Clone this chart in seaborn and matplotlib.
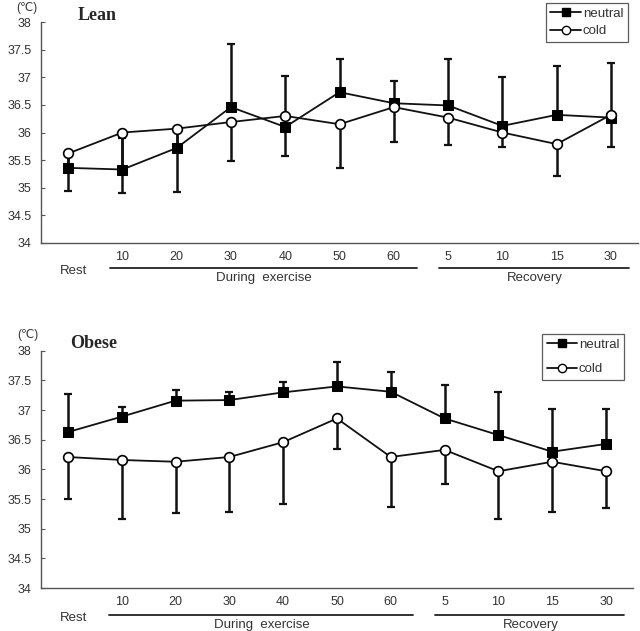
import numpy as np
import pandas as pd
import matplotlib
matplotlib.use("Agg")
import matplotlib.pyplot as plt
import matplotlib.transforms as mtransforms
from matplotlib.lines import Line2D
import seaborn as sns

# Time points (Rest, during exercise minutes, recovery minutes)
time_labels = ["", "10", "20", "30", "40", "50", "60", "5", "10", "15", "30"]

# Lean group, rectal temperature (deg C)
lean_neutral = [35.36, 35.33, 35.72, 36.46, 36.10, 36.73, 36.53, 36.49, 36.12, 36.32, 36.27]
lean_neutral_err = [0.25, 0.57, 0.33, 1.15, 0.92, 0.60, 0.41, 0.84, 0.88, 0.88, 0.98]
lean_cold = [35.62, 36.00, 36.07, 36.19, 36.30, 36.15, 36.46, 36.27, 36.00, 35.79, 36.32]
lean_cold_err = [0.68, 1.10, 1.15, 0.70, 0.73, 0.79, 0.63, 0.50, 0.27, 0.58, 0.58]

# Obese group
obese_neutral = [36.63, 36.89, 37.16, 37.17, 37.30, 37.40, 37.31, 36.86, 36.58, 36.30, 36.43]
obese_neutral_err = [0.64, 0.17, 0.18, 0.14, 0.18, 0.41, 0.34, 0.56, 0.73, 0.72, 0.59]
obese_cold = [36.21, 36.16, 36.13, 36.21, 36.46, 36.86, 36.21, 36.33, 35.97, 36.13, 35.97]
obese_cold_err = [0.70, 1.00, 0.87, 0.92, 1.04, 0.51, 0.84, 0.57, 0.81, 0.84, 0.62]

sns.set_style("white")
plt.rcParams["font.family"] = ["Liberation Sans", "DejaVu Sans"]

text_col = "#333333"
axis_col = "#555555"


def draw_panel(ax, title, title_x, neutral, neutral_err, cold, cold_err,
               legend_anchor, legend_spacing):
    pos = np.arange(len(time_labels))
    df = pd.DataFrame({
        "pos": np.concatenate([pos, pos]),
        "temp": neutral + cold,
        "cond": ["neutral"] * len(pos) + ["cold"] * len(pos),
    })

    # error bars: neutral upward, cold downward
    ax.errorbar(pos, neutral, yerr=[np.zeros(len(pos)), neutral_err], fmt="none",
                ecolor="#111111", elinewidth=1.8, capsize=3, capthick=1.6, zorder=1)
    ax.errorbar(pos, cold, yerr=[cold_err, np.zeros(len(pos))], fmt="none",
                ecolor="#111111", elinewidth=1.8, capsize=3, capthick=1.6, zorder=1)

    sns.lineplot(data=df[df.cond == "neutral"], x="pos", y="temp", ax=ax, color="#111111",
                 marker="s", markersize=7, markerfacecolor="black", markeredgecolor="black",
                 linewidth=1.3, zorder=3, legend=False)
    sns.lineplot(data=df[df.cond == "cold"], x="pos", y="temp", ax=ax, color="#111111",
                 marker="o", markersize=7, markerfacecolor="white", markeredgecolor="black",
                 markeredgewidth=1.2, linewidth=1.3, zorder=3, legend=False)

    ax.set_xlim(-0.5, 10.5)
    ax.set_ylim(34, 38)
    ax.set_yticks(np.arange(34, 38.01, 0.5))
    ax.set_yticklabels(["34", "34.5", "35", "35.5", "36", "36.5", "37", "37.5", "38"])
    ax.set_xticks(np.arange(0.5, 10.6, 1.0))
    ax.set_xticklabels([])
    ax.set_xticks(pos[1:], minor=True)
    ax.set_xticklabels(time_labels[1:], minor=True)
    ax.tick_params(axis="x", which="major", direction="in", length=3, color=axis_col)
    ax.tick_params(axis="x", which="minor", length=0, pad=6, labelsize=9, labelcolor=text_col)
    ax.tick_params(axis="y", direction="in", length=3, color=axis_col, pad=7,
                   labelsize=9, labelcolor=text_col, left=True)
    ax.set_xlabel("")
    ax.set_ylabel("")
    sns.despine(ax=ax)
    for s in ["left", "bottom"]:
        ax.spines[s].set_color(axis_col)
        ax.spines[s].set_linewidth(1.0)

    # group labels below the axis
    trans = mtransforms.blended_transform_factory(ax.transData, ax.transAxes)
    ax.plot([0.77, 6.42], [-0.112, -0.112], transform=trans, color="#222222", lw=1.3, clip_on=False)
    ax.plot([6.83, 10.33], [-0.112, -0.112], transform=trans, color="#222222", lw=1.3, clip_on=False)
    ax.text(0.1, -0.125, "Rest", transform=trans, ha="center", va="center",
            fontsize=9.5, color=text_col)
    ax.text(3.6, -0.157, "During  exercise", transform=trans, ha="center", va="center",
            fontsize=9.5, color=text_col)
    ax.text(8.6, -0.157, "Recovery", transform=trans, ha="center", va="center",
            fontsize=9.5, color=text_col)

    ax.text(-0.005, 1.066, "(\u2103)", transform=ax.transAxes, ha="right", va="center",
            fontsize=8.5, color=text_col)
    ax.text(title_x, 1.03, title, transform=ax.transAxes, ha="left", va="center",
            fontsize=13, fontweight="bold", family=["Liberation Serif", "DejaVu Serif"])

    handles = [
        Line2D([], [], color="#111111", lw=1.3, marker="s", markersize=6,
               markerfacecolor="black", markeredgecolor="black"),
        Line2D([], [], color="#111111", lw=1.3, marker="o", markersize=6,
               markerfacecolor="white", markeredgecolor="black"),
    ]
    leg = ax.legend(handles, ["neutral", "cold"], loc="upper right", bbox_to_anchor=legend_anchor,
                    bbox_transform=ax.transAxes, frameon=True, fancybox=False, fontsize=9.5,
                    handlelength=2.3, handletextpad=0.15, borderpad=0.35,
                    labelspacing=legend_spacing, borderaxespad=0)
    leg.get_frame().set_edgecolor("#333333")
    leg.get_frame().set_linewidth(0.9)
    for t in leg.get_texts():
        t.set_color(text_col)


fig = plt.figure(figsize=(6.4, 6.31), dpi=100)
ax1 = fig.add_axes([0.064, 0.615, 0.933, 0.350])
ax2 = fig.add_axes([0.064, 0.068, 0.925, 0.376])

draw_panel(ax1, "Lean", 0.062, lean_neutral, lean_neutral_err, lean_cold, lean_cold_err,
           (0.983, 1.086), 0.4)
draw_panel(ax2, "Obese", 0.049, obese_neutral, obese_neutral_err, obese_cold, obese_cold_err,
           (0.985, 1.072), 0.95)

fig.savefig("out.png", dpi=100)
